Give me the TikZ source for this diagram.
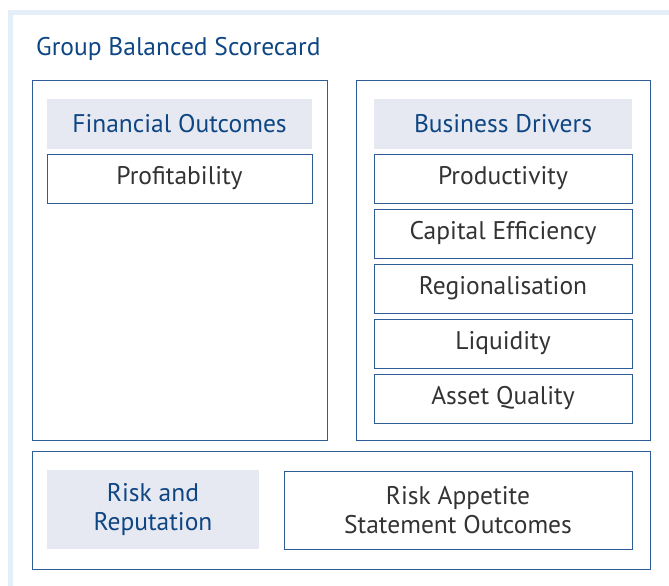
\documentclass[tikz,border=0pt]{standalone}
\usepackage{fontspec}
\setmainfont{PT Sans}
\usepackage{tikz}
\usetikzlibrary{positioning}

\definecolor{navy}{HTML}{0E4684}
\definecolor{edgeblue}{HTML}{2F5C96}
\definecolor{headfill}{HTML}{E6E9F1}
\definecolor{framefill}{HTML}{E3EEF9}
\definecolor{bodytext}{HTML}{333333}

\tikzset{
  panel/.style={draw=edgeblue, line width=0.9pt, anchor=north west, inner sep=0pt, outer sep=0pt},
  head/.style={fill=headfill, text=navy, anchor=north west, align=center, outer sep=0pt,
    font=\fontsize{25.5}{29}\selectfont},
  item/.style={draw=edgeblue, line width=0.9pt, fill=white, text=bodytext, align=center,
    minimum width=258pt, minimum height=49pt, inner sep=0pt, outer sep=0pt,
    font=\fontsize{25.5}{29}\selectfont},
}

\begin{document}
\begin{tikzpicture}[x=1pt,y=-1pt]
	\useasboundingbox (0,0) rectangle (669,586);
	% light outer frame, open to the right and below
	\draw[framefill, line width=5pt] (669,12.5) -- (10.5,12.5) -- (10.5,586);
	
	\node[anchor=west, text=navy, font=\fontsize{25.5}{29}\selectfont, inner sep=0pt] (title) at (36,49) {Group Balanced Scorecard};
	
	% the three panels
	\node[panel, minimum width=295pt, minimum height=360pt] (finpanel) at (32,80) {};
	\node[panel, minimum width=294pt, minimum height=360pt] (bizpanel) at (356,80) {};
	\node[panel, minimum width=618pt, minimum height=118pt] (riskpanel) at (32,451) {};
	
	% financial outcomes
	\node[head, minimum width=265pt, minimum height=50pt] (fin) at (47,99) {Financial Outcomes};
	\node[item, minimum width=265pt] (profit) [below = 5pt of fin] {Profitability};
	
	% business drivers
	\node[head, minimum width=258pt, minimum height=50pt] (biz) at (374,99) {Business Drivers};
	\node[item] (prod) [below = 5pt of biz] {Productivity};
	\node[item] (capeff) [below = 6pt of prod] {Capital Efficiency};
	\node[item] (region) [below = 6pt of capeff] {Regionalisation};
	\node[item] (liquid) [below = 6pt of region] {Liquidity};
	\node[item] (asset) [below = 6pt of liquid] {Asset Quality};
	
	% risk and reputation
	\node[head, minimum width=212pt, minimum height=79pt] (risk) at (47,470) {Risk and\\Reputation};
	\node[item, minimum width=348pt, minimum height=78pt, anchor=north west] (appetite) at (284,471) {Risk Appetite\\Statement Outcomes};
\end{tikzpicture}
\end{document}
